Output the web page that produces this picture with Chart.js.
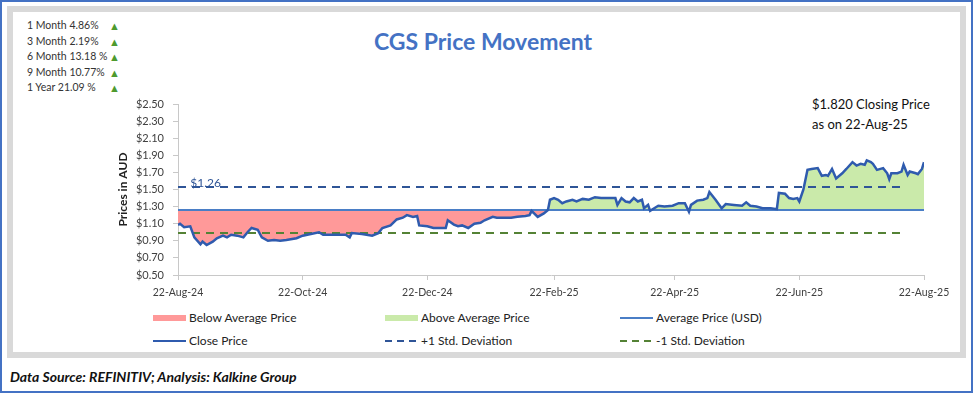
<!DOCTYPE html>
<html>
<head>
<meta charset="utf-8">
<script src="https://cdn.jsdelivr.net/npm/chart.js@4.4.1/dist/chart.umd.min.js"></script>
<style>
  body { margin: 0; background: #fff; font-family: Lato, "Open Sans", sans-serif; }
  #page { position: relative; width: 973px; height: 393px; overflow: hidden; background: #fff; }
  #outer { position: absolute; left: 0; top: 0; width: 973px; height: 393px; border: 2px solid #4472C4; box-sizing: border-box; }
  #frame { position: absolute; left: 7px; top: 6px; width: 959px; height: 352px; border: 6px solid #D9D9D9; box-sizing: border-box; }
  #perf { position: absolute; left: 27px; top: 18px; font-size: 10.5px; color: #333; }
  #perf div { height: 15.5px; line-height: 15.5px; position: relative; }
  #perf span.up { position: absolute; left: 82px; color: #4E9A2E; font-size: 11px; }
  #title { position: absolute; left: 0; width: 966px; top: 27px; text-align: center; font-size: 23px; font-weight: bold; color: #4472C4; }
  #note { position: absolute; left: 812px; top: 94px; font-size: 13px; line-height: 20px; color: #111; }
  .leg { position: absolute; font-size: 12px; color: #222; height: 16px; line-height: 16px; }
  .leg svg { position: absolute; left: 0; top: 0; }
  .leg span { position: absolute; left: 36px; white-space: nowrap; }
  #foot { position: absolute; left: 10px; top: 368px; font-size: 14px; font-weight: bold; font-style: italic; color: #111; }
  canvas { position: absolute; left: 0; top: 0; }
</style>
</head>
<body>
<div id="page">
  <div id="outer"></div>
  <div id="frame"></div>
  <div id="perf"></div>
  <div id="title">CGS Price Movement</div>
  <div id="note">$1.820 Closing Price<br>as on 22-Aug-25</div>
  <div id="legend"></div>
  <div id="foot">Data Source: REFINITIV; Analysis: Kalkine Group</div>
  <canvas id="myChart" width="973" height="393"></canvas>
</div>
<script>
// Rendimientos del panel superior izquierdo
const perfLabels = ["1 Month 4.86%", "3 Month 2.19%", "6 Month 13.18 %", "9 Month 10.77%", "1 Year 21.09 %"];

// Eje X: dias desde 22-Aug-24
const tickDays = [0, 61, 122, 184, 243, 304, 365];
const tickLabels = ["22-Aug-24", "22-Oct-24", "22-Dec-24", "22-Feb-25", "22-Apr-25", "22-Jun-25", "22-Aug-25"];

// Precio de cierre
const closeDays = [0, 1, 3, 6, 8, 11, 12, 14, 17, 19, 22, 24, 26, 29, 32, 34, 36, 39, 41, 44, 47, 50, 53, 58,
  61, 65, 69, 71, 77, 82, 84, 85, 90, 95, 98, 100, 104, 107, 110, 112, 115, 117, 118,
  122, 125, 128, 131, 132, 135, 137, 139, 142, 145, 148, 150, 154, 156, 159, 163, 166, 170, 172, 173, 176, 179, 181, 182,
  184, 186, 188, 190, 193, 195, 198, 201, 204, 207, 212, 214, 215, 217, 219, 221, 223, 225, 227, 228, 230, 231, 233, 235, 238, 242,
  245, 248, 250, 251, 254, 257, 259, 260, 263, 266, 268, 272, 276, 278, 280, 283, 286, 290, 293, 294, 297, 299, 301, 303,
  304, 306, 308, 310, 313, 315, 317, 318, 320, 322, 325, 327, 330, 332, 334, 336, 337, 339, 340, 342, 345, 347, 348, 349,
  352, 354, 355, 357, 358, 361, 362, 364, 365];
const closePrices = [1.085, 1.10, 1.06, 1.07, 0.94, 0.86, 0.89, 0.85, 0.89, 0.93, 0.96, 0.94, 0.97, 0.96, 0.94, 1.00, 1.05, 1.03, 0.94, 0.90, 0.91, 0.90, 0.91, 0.93,
  0.96, 0.98, 1.00, 0.97, 0.97, 0.97, 0.94, 0.99, 0.98, 0.96, 0.99, 1.05, 1.08, 1.15, 1.17, 1.20, 1.18, 1.19, 1.08,
  1.07, 1.05, 1.05, 1.05, 1.14, 1.09, 1.07, 1.08, 1.05, 1.10, 1.11, 1.14, 1.18, 1.17, 1.17, 1.17, 1.18, 1.19, 1.20, 1.25, 1.18, 1.22, 1.26, 1.38,
  1.40, 1.38, 1.34, 1.36, 1.38, 1.36, 1.39, 1.38, 1.41, 1.40, 1.40, 1.40, 1.32, 1.40, 1.36, 1.35, 1.40, 1.36, 1.38, 1.28, 1.32, 1.25, 1.28, 1.31, 1.30, 1.31,
  1.34, 1.34, 1.24, 1.32, 1.37, 1.38, 1.40, 1.47, 1.38, 1.28, 1.33, 1.32, 1.31, 1.35, 1.31, 1.30, 1.28, 1.28, 1.27, 1.46, 1.45, 1.40, 1.39, 1.40,
  1.36, 1.50, 1.73, 1.74, 1.75, 1.66, 1.67, 1.66, 1.74, 1.63, 1.69, 1.74, 1.82, 1.78, 1.80, 1.79, 1.84, 1.82, 1.80, 1.73, 1.75, 1.69, 1.62, 1.69,
  1.69, 1.71, 1.79, 1.67, 1.71, 1.69, 1.68, 1.74, 1.82];

const avgPrice = 1.26;
const stdUpper = 1.53;
const stdLower = 0.99;
const stdEndDay = 355; // las lineas de desviacion terminan antes del final

const redFill = "rgba(255, 153, 153, 1)";
const greenFill = "rgba(202, 234, 170, 1)";

// Panel de rendimientos
const $perf = document.getElementById("perf");
perfLabels.forEach(t => {
  const d = document.createElement("div");
  d.innerHTML = t + '<span class="up">&#9650;</span>';
  $perf.appendChild(d);
});

// Leyenda en HTML (3 columnas, 2 filas)
const legendItems = [
  { text: "Below Average Price", x: 153, y: 310, kind: "box", color: redFill },
  { text: "Above Average Price", x: 385, y: 310, kind: "box", color: greenFill },
  { text: "Average Price (USD)", x: 620, y: 310, kind: "line", color: "#4A7EC6" },
  { text: "Close Price", x: 153, y: 333, kind: "line", color: "#2F5BAE" },
  { text: "+1 Std. Deviation", x: 385, y: 333, kind: "dash", color: "#2F5597" },
  { text: "-1 Std. Deviation", x: 620, y: 333, kind: "dash", color: "#548235" },
];
const $legend = document.getElementById("legend");
legendItems.forEach(it => {
  const d = document.createElement("div");
  d.className = "leg";
  d.style.left = it.x + "px";
  d.style.top = it.y + "px";
  let sw = "";
  if (it.kind === "box") sw = `<rect x="0" y="5" width="33" height="6" fill="${it.color}"/>`;
  if (it.kind === "line") sw = `<line x1="0" y1="8" x2="33" y2="8" stroke="${it.color}" stroke-width="2"/>`;
  if (it.kind === "dash") sw = `<line x1="0" y1="8" x2="33" y2="8" stroke="${it.color}" stroke-width="2" stroke-dasharray="7,5"/>`;
  d.innerHTML = `<svg width="34" height="16">${sw}</svg><span>${it.text}</span>`;
  $legend.appendChild(d);
});

// Etiqueta "$1.26" sobre la linea +1 desviacion
const avgLabel = {
  id: "avgLabel",
  afterDatasetsDraw(chart) {
    const { ctx, scales } = chart;
    ctx.save();
    ctx.font = "12px Lato";
    ctx.fillStyle = "#2F5597";
    ctx.textBaseline = "middle";
    ctx.fillText("$" + avgPrice.toFixed(2), scales.x.getPixelForValue(6), scales.y.getPixelForValue(stdUpper) - 4);
    ctx.restore();
  }
};

const ctx = document.getElementById("myChart").getContext("2d");
new Chart(ctx, {
  type: "line",
  data: {
    datasets: [
      {
        label: "Close Price",
        data: closeDays.map((d, i) => ({ x: d, y: closePrices[i] })),
        borderColor: "#2F5BAE",
        borderWidth: 2.5,
        pointRadius: 0,
        tension: 0,
        fill: { target: { value: avgPrice }, above: greenFill, below: redFill },
        order: 0,
      },
      {
        label: "Average Price (USD)",
        data: [{ x: 0, y: avgPrice }, { x: 365, y: avgPrice }],
        borderColor: "#4A7EC6",
        borderWidth: 2,
        pointRadius: 0,
        fill: false,
        order: 1,
      },
      {
        label: "+1 Std. Deviation",
        data: [{ x: 0, y: stdUpper }, { x: stdEndDay, y: stdUpper }],
        borderColor: "#2F5597",
        borderWidth: 2,
        borderDash: [8, 6],
        pointRadius: 0,
        fill: false,
        order: 2,
      },
      {
        label: "-1 Std. Deviation",
        data: [{ x: 0, y: stdLower }, { x: stdEndDay, y: stdLower }],
        borderColor: "#548235",
        borderWidth: 2,
        borderDash: [8, 6],
        pointRadius: 0,
        fill: false,
        order: 3,
      },
    ],
  },
  options: {
    responsive: false,
    animation: false,
    devicePixelRatio: 1,
    layout: { padding: { left: 100, top: 104, right: 49, bottom: 88 } },
    plugins: {
      legend: { display: false },
      tooltip: { enabled: false },
      filler: { drawTime: "beforeDatasetsDraw" },
    },
    scales: {
      x: {
        type: "linear",
        min: 0,
        max: 365,
        afterBuildTicks: (scale) => { scale.ticks = tickDays.map(v => ({ value: v })); },
        afterFit: (scale) => { scale.height = 30; },
        ticks: {
          autoSkip: false,
          maxRotation: 0,
          padding: 6,
          color: "#404040",
          font: { family: "Lato", size: 10.5 },
          callback: (v) => tickLabels[tickDays.indexOf(v)],
        },
        grid: { drawOnChartArea: false, drawTicks: true, tickLength: 5, color: "#C8C8C8" },
        border: { display: true, color: "#C8C8C8", width: 1 },
      },
      y: {
        min: 0.5,
        max: 2.5,
        afterFit: (scale) => { scale.width = 78; },
        ticks: {
          stepSize: 0.2,
          padding: 9,
          color: "#404040",
          font: { family: "Lato", size: 11 },
          callback: (v) => "$" + Number(v).toFixed(2),
        },
        grid: { drawOnChartArea: false, drawTicks: true, tickLength: 5, color: "#C8C8C8" },
        border: { display: true, color: "#C8C8C8", width: 1 },
        title: {
          display: true,
          text: "Prices in AUD",
          color: "#222",
          font: { family: "Lato", size: 12, weight: "bold" },
          padding: { top: 16, bottom: 0 },
        },
      },
    },
  },
  plugins: [avgLabel],
});
</script>
</body>
</html>
